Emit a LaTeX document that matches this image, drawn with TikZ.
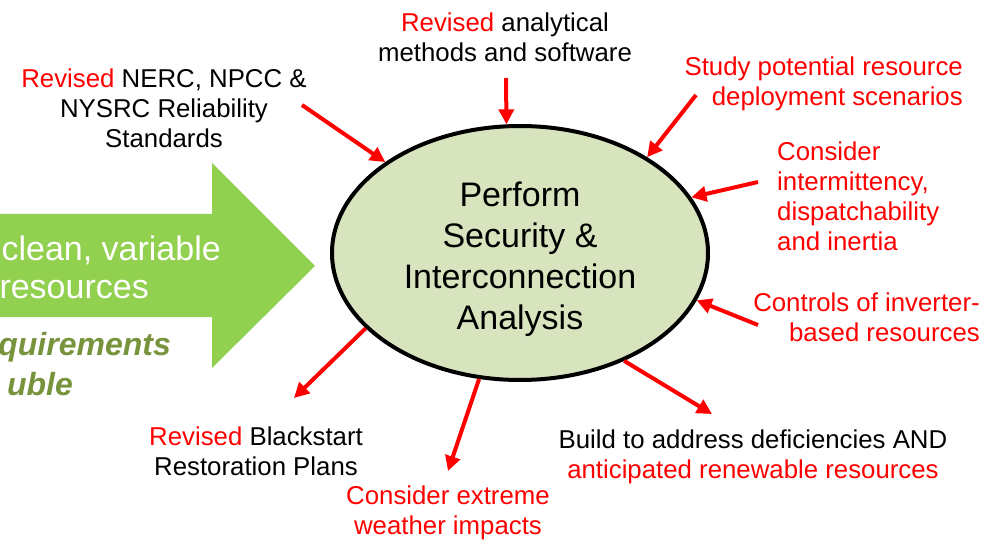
\documentclass[tikz,border=0pt]{standalone}
\usepackage{fontspec}
\setmainfont{Liberation Sans}
\usepackage{xcolor}
\usepackage{tikz}
\usetikzlibrary{arrows.meta,shapes.geometric}

\definecolor{arrowgreen}{HTML}{92D050}
\definecolor{ovalgreen}{HTML}{D7E4BD}
\definecolor{olive}{HTML}{77933C}

\begin{document}
\begin{tikzpicture}[x=1pt, y=1pt,
    lbl/.style={inner sep=0pt, align=center, font=\fontsize{25.8}{30}\selectfont},
    redarrow/.style={draw=red, line width=4pt, -{Triangle[length=15pt,width=15pt]}}]
            \useasboundingbox (0,0) rectangle (1002,542);

            \fill[arrowgreen] (0,225) -- (212,225) -- (212,174) -- (315,276) -- (212,379) -- (212,328) -- (0,328) -- cycle;
            \node[anchor=east, inner sep=0pt, text=white, font=\fontsize{34}{40}\selectfont] (clean) at (221,292) {clean, variable};
            \node[anchor=east, inner sep=0pt, text=white, font=\fontsize{34}{40}\selectfont] (res) at (149,252) {resources};
            \node[anchor=base east, inner sep=0pt, text=olive, font=\fontsize{32}{38}\bfseries\itshape\selectfont] (req) at (171,187) {quirements};
            \node[anchor=base east, inner sep=0pt, text=olive, font=\fontsize{32}{38}\bfseries\itshape\selectfont] (dbl) at (73,147) {uble};

            \node[ellipse, draw=black, line width=4pt, fill=ovalgreen, minimum width=376pt, minimum height=254pt, inner sep=0pt, align=center, font=\fontsize{34}{41}\selectfont] (ana) at (520,289) {\rule{0pt}{37pt}Perform\\Security \&\\Interconnection\\Analysis};

            \node[lbl] (tsoft) at (505,505) {{\color{red}Revised} analytical\\methods and software};
            \node[lbl] (tnerc) at (164,434) {{\color{red}Revised} NERC, NPCC \&\\NYSRC Reliability\\Standards};
            \node[lbl, anchor=east, align=right, text=red] (tstudy) at (963,458) {Study potential resource\\deployment scenarios};
            \node[lbl, anchor=west, align=left, text=red] (tcons) at (777,345.5) {Consider\\intermittency,\\dispatchability\\and inertia};
            \node[lbl, anchor=east, align=right, text=red] (tctrl) at (980,224.5) {Controls of inverter-\\based resources};
            \node[lbl] (tbuild) at (753,85.5) {Build to address deficiencies AND\\{\color{red}anticipated renewable resources}};
            \node[lbl] (tblack) at (256,91) {{\color{red}Revised} Blackstart\\Restoration Plans};
            \node[lbl, text=red] (twx) at (448,29.5) {Consider extreme\\weather impacts};

            \coordinate (csoft) at (506,464);
            \coordinate (cnerc) at (302,437);
            \coordinate (cstudy) at (696,447);
            \coordinate (ccons) at (758,360);
            \coordinate (cctrl) at (758,217);
            \coordinate (cbuild) at (712,128);
            \coordinate (cblack) at (294,144);
            \coordinate (cwx) at (448,71);

            \draw[redarrow] (csoft) -- (ana.96); % software
            \draw[redarrow] (cnerc) -- (ana.146); % standards
            \draw[redarrow] (cstudy) -- (ana.37); % scenarios
            \draw[redarrow] (ccons) -- (ana.18); % intermittency
            \draw[redarrow] (cctrl) -- (ana.-15); % inverters
            \draw[redarrow] (ana.-46) -- (cbuild); % build
            \draw[redarrow] (ana.206) -- (cblack); % blackstart
            \draw[redarrow] (ana.252) -- (cwx); % weather
        \end{tikzpicture}
\end{document}
